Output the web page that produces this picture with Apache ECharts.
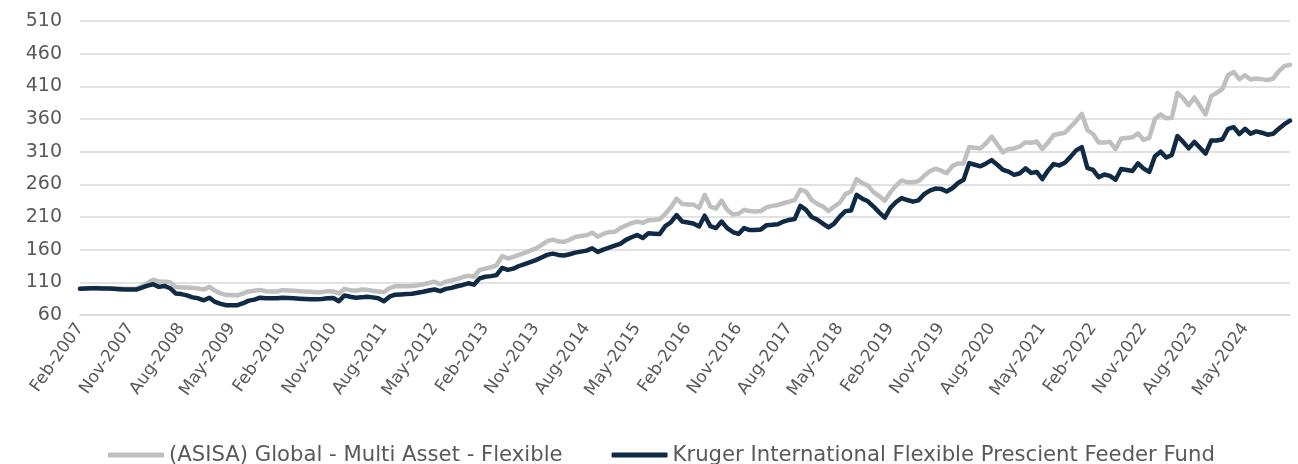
<!DOCTYPE html>
<html>
<head>
<meta charset="utf-8">
<script src="https://cdn.jsdelivr.net/npm/echarts@6/dist/echarts.min.js"></script>
<style>
html,body{margin:0;padding:0;background:#fff;}
#chart{width:1298px;height:464px;}
</style>
</head>
<body>
<div id="chart"></div>
<script>
// ---- Data (monthly, Feb-2007 .. Jan-2025) ----
const startYear = 2007;
const startMonth = 1; // 0-based: Feb
const monthNames = ['Jan','Feb','Mar','Apr','May','Jun','Jul','Aug','Sep','Oct','Nov','Dec'];

const seriesNames = ['(ASISA) Global - Multi Asset - Flexible', 'Kruger International Flexible Prescient Feeder Fund'];

const asisa = [
  100,100.5,101,101.5,101,101,100.5,100.5,100,100,
  100.5,104,109,114,111,111,110,103,102,102,
  101.5,100.5,99,103,97,93,90.5,90.5,90,93,
  96,97,98.5,96.5,96,96,98,97.5,97,96.5,
  96,95.5,95,95,96.5,96,93,100,98,97,
  99,98.5,97,96,95,101,104,104,104,104.5,
  105.5,107,109,111,107,111,113,115,118,120,
  118.5,129,131,133,136,150,146.5,149,152,155,
  158.5,162,167,173,175.5,172.5,172,175,179.5,181,
  182,186,180,184,187,187,193,197,200.5,203,
  201,205,205.5,206.5,215,225,238,230,229,229,
  224,244,226,223,235,221,214,215,221,219,
  218.5,219,225,227,228.5,231,233.5,236,252,249,
  236,230,226,219,226,232,245,249,268,262,
  258,248,242,235,248,258,266,263,263,265,
  273,280,284,281,277,288,292,292,317,316,
  315,323,333,321,309,314,315,318,324.5,323.5,
  325.5,314,324,335.5,337.5,339,348,357,368,343,
  337,324,324,325,314,330,331,332,338,328,
  331,360,367,361,362,400,392,381,393,380,
  367,395,400,406,427,432,421,427,420.5,422,
  421,419.5,422,433,441,443
];

const kruger = [
  100,100.5,101,101,100.5,100.5,100,99.5,99,99,
  99,102,105,107,103,104.5,101,93,92,90,
  87,85.5,82.5,86.5,80,77,75,75,75,78,
  82,83.5,86.5,85.5,85.5,85.5,86.5,86,85.5,85,
  84.5,84,84,84.5,85.5,86,81,90,88,86.5,
  87,88,87,85.5,81,88,91,91.5,92,92.5,
  94,95.5,97.5,99,96.5,100,101.5,104,106,108.5,
  106.5,116,118.5,119.5,121,132,129,131,135,138,
  141,144,148,152,154,152,151,153,155.5,157,
  158.5,162,156.5,160,163,166,169,175,179,182.5,
  178,185,184.5,184,196,202,213,203,201.5,200,
  195.5,212,196,193,203,193,187,184,193,190,
  190,191,197.5,198,199,203,205.5,207,227,221,
  210,206,200,194,200,210.5,219,220,244,238,
  234,226,217,209,224,233,239,236,233.5,235.5,
  245,250.5,253.5,253,249,254,262,267,292.5,290,
  287.5,292,297,290,282,279.5,274.5,277,284.5,277.5,
  279,268,281,291,289,293,302,312,317,285,
  282,271,275,273,267,283.5,282,280.5,292,284,
  279,303,310,301,305,334,325,315,325,316,
  307,327,327,329,345,347.5,337,345,337.5,341,
  339,336,337.5,345,352,357.5
];

const yMin = 60, yMax = 510, yStep = 50;

// categories: month labels
const categories = [];
for (let k = 0; k < asisa.length; k++) {
  const m = startMonth + k;
  categories.push(monthNames[m % 12] + '-' + (startYear + Math.floor(m / 12)));
}

const FONT = 'DejaVu Sans';
const chart = echarts.init(document.getElementById('chart'), null, {renderer: 'canvas'});
chart.setOption({
  animation: false,
  backgroundColor: '#ffffff',
  grid: {left: 80, right: 8, top: 21, bottom: 149, containLabel: false},
  legend: {
    left: 103,
    top: 438,
    itemWidth: 56,
    itemHeight: 5,
    itemGap: 49,
    icon: 'roundRect',
    textStyle: {color: '#595959', fontSize: 21.2, fontFamily: FONT, lineHeight: 24},
    data: seriesNames
  },
  xAxis: {
    type: 'category',
    data: categories,
    boundaryGap: false,
    axisTick: {show: false},
    axisLine: {show: true, lineStyle: {color: '#D9D9D9', width: 1.5}},
    axisLabel: {
      interval: 8,
      rotate: 55,
      margin: 10,
      color: '#595959',
      fontSize: 17,
      fontFamily: FONT
    },
    splitLine: {show: false}
  },
  yAxis: {
    type: 'value',
    min: yMin,
    max: yMax,
    interval: yStep,
    axisLine: {show: false},
    axisTick: {show: false},
    axisLabel: {color: '#595959', fontSize: 19, fontFamily: FONT, margin: 18},
    splitLine: {show: true, lineStyle: {color: '#D9D9D9', width: 1.5}}
  },
  series: [
    {
      name: seriesNames[0],
      type: 'line',
      data: asisa,
      symbol: 'none',
      lineStyle: {color: '#BFBFBF', width: 4.5, cap: 'round', join: 'round'},
      itemStyle: {color: '#BFBFBF'}
    },
    {
      name: seriesNames[1],
      type: 'line',
      data: kruger,
      symbol: 'none',
      lineStyle: {color: '#0F2A45', width: 4.5, cap: 'round', join: 'round'},
      itemStyle: {color: '#0F2A45'}
    }
  ]
});
</script>
</body>
</html>
